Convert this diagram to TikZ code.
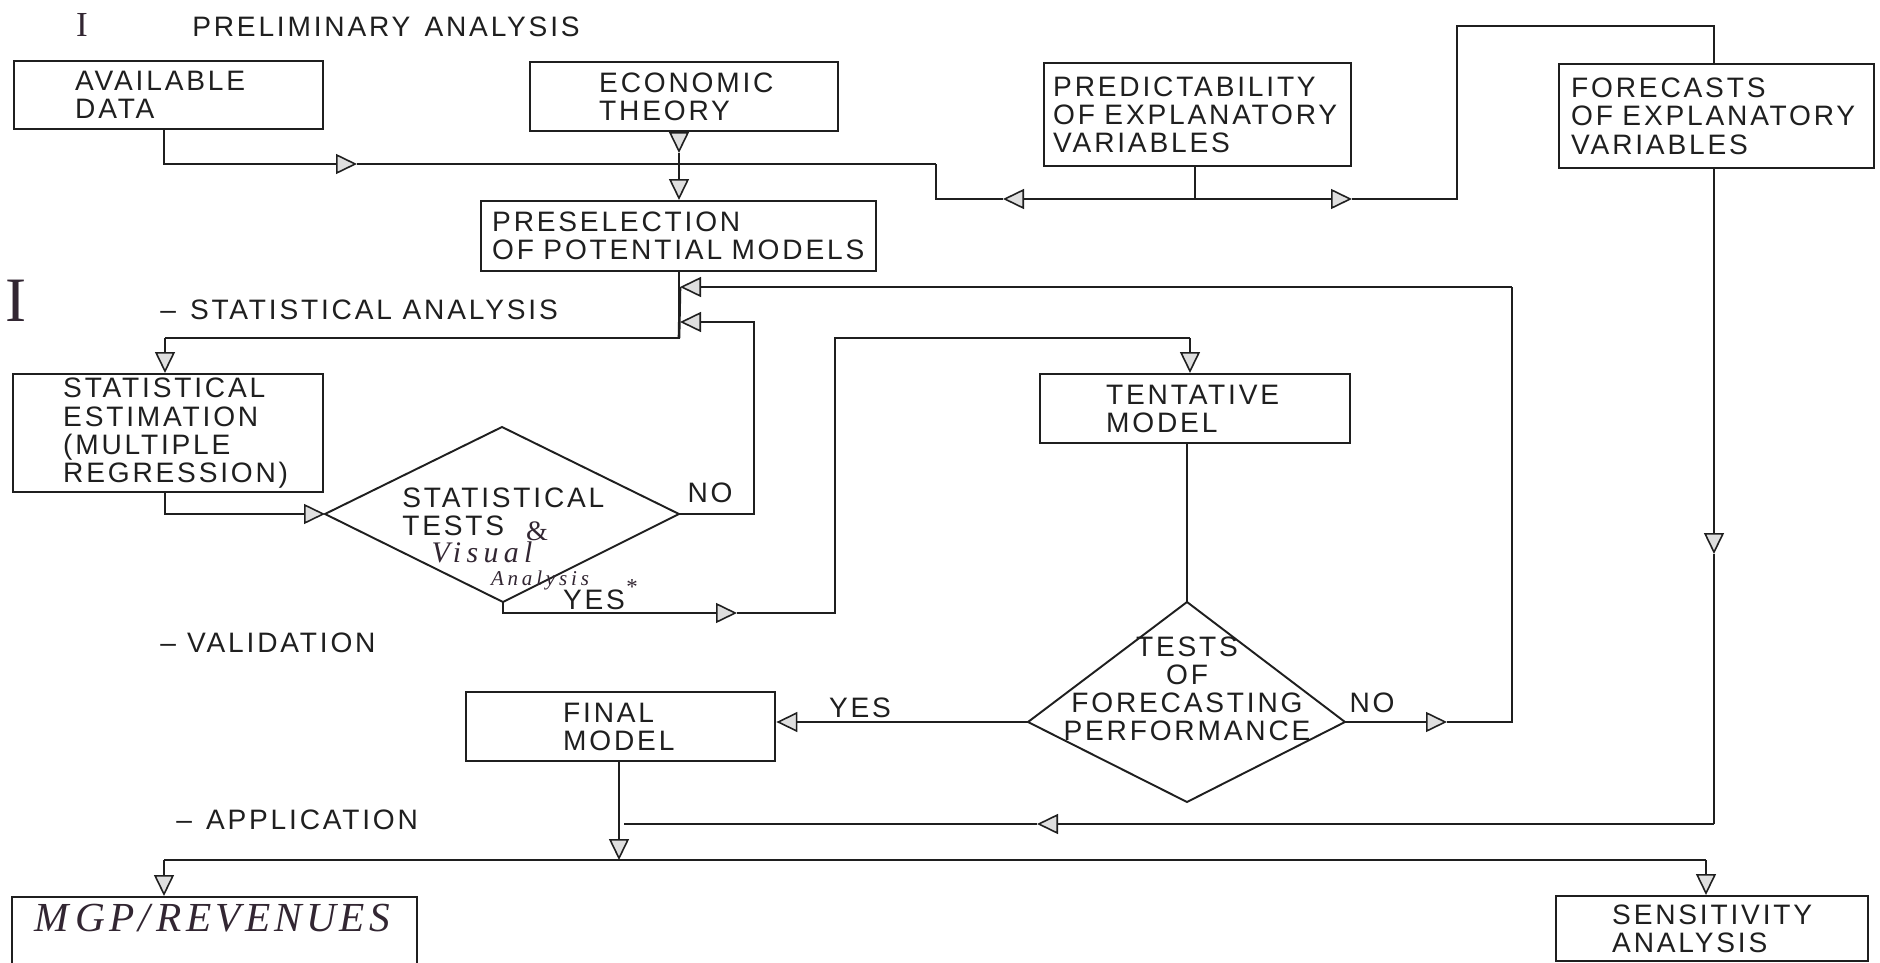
\documentclass[tikz,border=0pt]{standalone}
\usepackage{fontspec}
\setmainfont{Liberation Sans}[LetterSpace=10]
\newfontfamily\handfont{Liberation Serif}[LetterSpace=10]
\newfontfamily\handwide{Liberation Serif}[LetterSpace=18]
\usetikzlibrary{arrows.meta}
\definecolor{ink}{gray}{0.12}
\definecolor{handink}{RGB}{50,38,50}
\newcommand\labfont{\fontsize{16}{16}\selectfont}
\begin{document}
\begin{tikzpicture}[x=0.02cm,y=-0.02cm,
  conn/.style={draw=ink, line width=1.5pt},
  box/.style={draw=ink, line width=1.4pt, inner xsep=0pt, inner ysep=0pt, anchor=north west, align=left, font=\labfont, text=ink},
  lab/.style={font=\labfont, text=ink, inner sep=0pt},
  hand/.style={font=\handfont, text=handink, inner sep=0pt},
  dia/.style={draw=ink, line width=1.1pt},
  Tri/.tip={Triangle[length=0.42cm,width=0.4cm,fill=gray!25,line width=0.9pt]},
  arr/.style={conn,-{Tri}}]
\fill[white] (0,0) rectangle (1880,963);
\useasboundingbox (0,0) rectangle (1880,963);

% section labels
\node[hand, font=\handfont\fontsize{20}{20}\selectfont] (h1) at (82,25) {I};
\node[lab, anchor=west] (s1) at (192,27) {PRELIMINARY\hspace{0.5em}ANALYSIS};
\node[hand, font=\handfont\fontsize{36}{36}\selectfont] (h2) at (16,301) {I};
\node[lab, anchor=west] (s2) at (160,310) {–\hspace{0.5em}STATISTICAL ANALYSIS};
\node[lab, anchor=west] (s3) at (160,643) {–\hspace{0.4em}VALIDATION};
\node[lab, anchor=west] (s4) at (176,820) {–\hspace{0.5em}APPLICATION};

% boxes
\node[box, minimum width=6.18cm, minimum height=1.36cm, text width=3.74cm] (data) at (13,60) {AVAILABLE\\DATA};
\node[box, minimum width=6.16cm, minimum height=1.38cm, text width=3.4cm] (econ) at (529,61) {ECONOMIC\\THEORY};
\node[box, minimum width=6.14cm, minimum height=2.06cm, text width=5.78cm] (pred) at (1043,62) {PREDICTABILITY\\OF EXPLANATORY\\VARIABLES};
\node[box, minimum width=6.3cm, minimum height=2.08cm, text width=5.82cm] (fore) at (1558,63) {FORECASTS\\OF EXPLANATORY\\VARIABLES};
\node[box, minimum width=7.9cm, minimum height=1.4cm, text width=7.46cm] (presel) at (480,200) {PRESELECTION\\OF POTENTIAL MODELS};
\node[box, minimum width=6.2cm, minimum height=2.36cm, text width=4.2cm] (stat) at (12,373) {STATISTICAL\\ESTIMATION\\(MULTIPLE\\REGRESSION)};
\node[box, minimum width=6.2cm, minimum height=1.38cm, text width=3.56cm] (tent) at (1039,373) {TENTATIVE\\MODEL};
\node[box, minimum width=6.18cm, minimum height=1.38cm, text width=2.3cm] (final) at (465,691) {FINAL\\MODEL};
\node[box, minimum width=8.1cm, minimum height=2.0cm] (mgp) at (11,896) {};
\node[hand, font=\handfont\itshape\fontsize{23.5}{24}\selectfont] (mgptxt) at (212,918) {M\,GP/\,REVENUES};
\node[box, minimum width=6.24cm, minimum height=1.3cm, text width=4.0cm] (sens) at (1555,895) {SENSITIVITY\\ANALYSIS};

% diamonds
\coordinate (d1t) at (502,427); \coordinate (d1r) at (679,514);
\coordinate (d1b) at (503,602); \coordinate (d1l) at (325,514);
\draw[dia] (d1t) -- (d1r) -- (d1b) -- (d1l) -- cycle;
\node[lab, anchor=west, align=left] (d1txt) at (402,512) {STATISTICAL\\TESTS};
\node[hand, font=\handfont\fontsize{16}{16}\selectfont] (amp) at (537,531) {\&};
\node[hand, font=\handwide\itshape\fontsize{17}{17}\selectfont] (vis) at (482,552) {Visual};
\node[hand, font=\handwide\itshape\fontsize{12}{12}\selectfont] (ana) at (540,580) {Analysis};
\node[lab] (yes1) at (594,600) {YES};
\node[hand, font=\handfont\fontsize{13}{13}\selectfont] (star) at (632,587) {*};
\node[lab] (no1) at (710,493) {NO};

\coordinate (d2t) at (1187,602); \coordinate (d2r) at (1345,722);
\coordinate (d2b) at (1187,802); \coordinate (d2l) at (1028,722);
\draw[dia] (d2t) -- (d2r) -- (d2b) -- (d2l) -- cycle;
\node[lab, align=center] (d2txt) at (1187,689) {TESTS\\OF\\FORECASTING\\PERFORMANCE};
\node[lab] (yes2) at (860,708) {YES};
\node[lab] (no2) at (1372,703) {NO};

% junction coordinates
\coordinate (p1) at (164,164);
\coordinate (a1) at (357,164);
\coordinate (jE) at (679,164);
\coordinate (a2) at (679,153);
\coordinate (jP) at (1195,199);
\coordinate (a3) at (1003,199);
\coordinate (k1) at (936,199);
\coordinate (k2) at (936,164);
\coordinate (a4) at (1352,199);
\coordinate (k3) at (1457,199);
\coordinate (k4) at (1457,26);
\coordinate (k5) at (1714,26);
\coordinate (a5) at (1714,554);
\coordinate (k6) at (1714,824);
\coordinate (a6) at (1037,824);
\coordinate (k8) at (624,824);
\coordinate (k9) at (619,860);
\coordinate (k10) at (164,860);
\coordinate (k11) at (1706,860);
\coordinate (k12) at (679,338);
\coordinate (k13) at (165,338);
\coordinate (k14) at (165,514);
\coordinate (k15) at (754,514);
\coordinate (k16) at (754,322);
\coordinate (k17) at (680,322);
\coordinate (a18) at (1447,722);
\coordinate (k19) at (1512,722);
\coordinate (k20) at (1512,287);
\coordinate (k21) at (680,287);
\coordinate (k22) at (503,613);
\coordinate (a22) at (737,613);
\coordinate (k23) at (835,613);
\coordinate (k24) at (835,338);
\coordinate (k25) at (1190,338);

% connectors
\draw[arr] (data.south -| p1) -- (p1) -- (a1);
\draw[conn] (a1) -- (jE) -- (k2);
\draw[arr] (econ.south -| jE) -- (a2);
\draw[conn] (a2) -- (jE);
\draw[arr] (jE) -- (presel.north -| jE);
\draw[conn] (pred.south -| jP) -- (jP);
\draw[arr] (jP) -- (a3);
\draw[conn] (a3) -- (k1) -- (k2);
\draw[arr] (jP) -- (a4);
\draw[conn] (a4) -- (k3) -- (k4) -- (k5) -- (fore.north -| k5);
\draw[arr] (fore.south -| k5) -- (a5);
\draw[conn] (a5) -- (k6);
\draw[arr] (k6) -- (a6);
\draw[conn] (a6) -- (k8);
\draw[arr] (final.south -| k9) -- (k9);
\draw[conn] (k10) -- (k11);
\draw[arr] (k10) -- (mgp.north -| k10);
\draw[arr] (k11) -- (sens.north -| k11);
\draw[conn] (presel.south -| jE) -- (k12) -- (k13);
\draw[arr] (k13) -- (stat.north -| k13);
\draw[arr] (stat.south -| k14) -- (k14) -- (d1l);
\draw[arr] (d1r) -- (k15) -- (k16) -- (k17);
\draw[arr] (d2r) -- (a18);
\draw[conn] (a18) -- (k19) -- (k20);
\draw[arr] (k20) -- (k21);
\draw[conn] (k12) -- (k21);
\draw[arr] (d1b) -- (k22) -- (a22);
\draw[conn] (a22) -- (k23) -- (k24) -- (k25);
\draw[arr] (k25) -- (tent.north -| k25);
\draw[conn] (tent.south -| d2t) -- (d2t);
\draw[arr] (d2l) -- (final.east |- d2l);
\end{tikzpicture}
\end{document}
